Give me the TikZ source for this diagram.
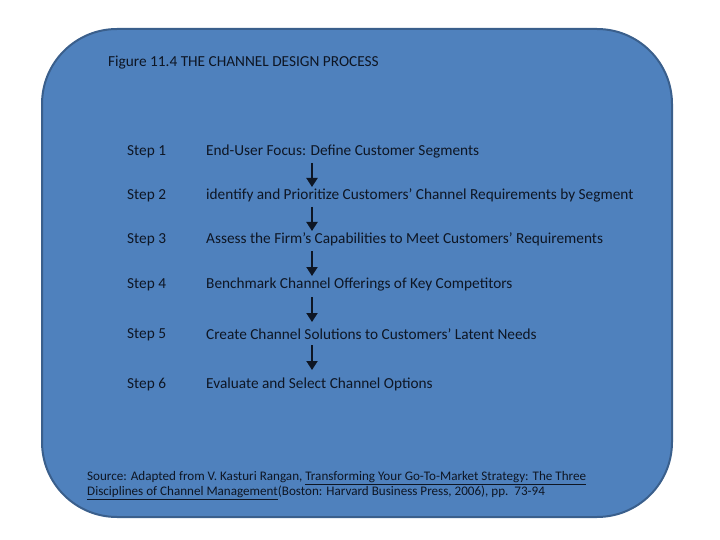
\documentclass[tikz,border=0pt]{standalone}
\usepackage{fontspec}
\setmainfont{Carlito}
\usetikzlibrary{arrows.meta}
\definecolor{boxfill}{HTML}{4F81BD}
\definecolor{boxline}{HTML}{3A5F8C}
\definecolor{txt}{HTML}{0E1624}
\begin{document}
\begin{tikzpicture}[x=1pt,y=-1pt,
  stepl/.style={anchor=west,inner sep=0pt,text=txt,font=\fontsize{15.3}{17}\selectfont},
  flow/.style={draw=txt,line width=2pt,-{Triangle[length=9pt,width=11pt]}},
  src/.style={anchor=west,inner sep=0pt,text=txt,font=\fontsize{13.1}{15}\selectfont}]
\useasboundingbox (0,0) rectangle (720,540);
\draw[fill=boxfill,draw=boxline,line width=2pt,rounded corners=75pt] (42,29) rectangle (672,517);
\node[anchor=west,inner sep=0pt,text=txt,font=\fontsize{15.3}{17}\selectfont] (title) at (108,62.5) {Figure 11.4 THE CHANNEL DESIGN PROCESS};
\foreach \i/\y in {1/151.5,2/195.5,3/239.5,4/284.5,5/334.5,6/384.5}{
  \node[stepl] (s\i) at (127,\y) {Step \i};
}
\node[stepl] (d1) at (206,151.5) {End-User Focus: Define Customer Segments};
\node[stepl] (d2) at (206,195.5) {identify and Prioritize Customers’ Channel Requirements by Segment};
\node[stepl] (d3) at (206,239.5) {Assess the Firm’s Capabilities to Meet Customers’ Requirements};
\node[stepl] (d4) at (206,284.5) {Benchmark Channel Offerings of Key Competitors};
\node[stepl] (d5) at (206,334.5) {Create Channel Solutions to Customers’ Latent Needs};
\node[stepl] (d6) at (206,384.5) {Evaluate and Select Channel Options};
\coordinate (a1) at (312,163); \coordinate (b1) at (312,187);
\coordinate (a2) at (312,207); \coordinate (b2) at (312,231);
\coordinate (a3) at (312,251); \coordinate (b3) at (312,276);
\coordinate (a4) at (312,297); \coordinate (b4) at (312,322);
\coordinate (a5) at (312,345); \coordinate (b5) at (312,370);
\foreach \k in {1,...,5}{ \draw[flow] (a\k) -- (b\k); }
\node[src] (src1) at (87,478) {Source: Adapted from V. Kasturi Rangan, \underline{Transforming Your Go-To-Market Strategy: The Three}};
\node[src] (src2) at (87,493) {\underline{Disciplines of Channel Management}(Boston: Harvard Business Press, 2006), pp.\ \ 73-94};
\end{tikzpicture}
\end{document}
